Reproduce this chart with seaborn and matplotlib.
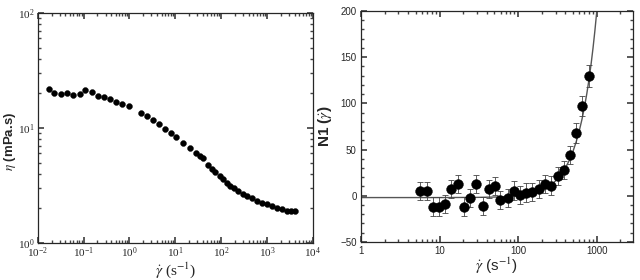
import numpy as np
import pandas as pd
import matplotlib
matplotlib.use('Agg')
import matplotlib.pyplot as plt
import matplotlib.ticker as mticker
import seaborn as sns

# viscosity curve (left panel)
shear_visc = [0.0174, 0.0231, 0.0316, 0.0437, 0.0589, 0.0813, 0.108, 0.149, 0.204, 0.276,
              0.373, 0.505, 0.693, 0.955, 1.77, 2.36, 3.24, 4.46, 6.03, 8.13, 10.5,
              14.9, 20.8, 27.7, 34.4, 40.7, 50.7, 61.7, 73.3, 94.2, 111, 132, 155,
              191, 236, 302, 372, 462, 596, 766, 977, 1259, 1622, 2089, 2692, 3311, 4074]
eta = [21.7, 20.3, 19.6, 20.0, 19.2, 19.9, 21.4, 20.7, 18.9, 18.7,
       18.0, 16.8, 16.1, 15.5, 13.6, 12.7, 11.7, 10.9, 9.8, 9.1, 8.3,
       7.36, 6.65, 6.02, 5.71, 5.46, 4.77, 4.40, 4.17, 3.83, 3.58, 3.35, 3.15,
       2.99, 2.83, 2.67, 2.56, 2.45, 2.33, 2.24, 2.17, 2.10, 2.01, 1.96, 1.91, 1.89, 1.89]

# first normal stress difference (right panel)
shear_n1 = [5.65, 6.87, 8.2, 9.95, 11.7, 14.0, 17.1, 20.7, 24.5, 29.2, 35.5, 43.1, 51, 59,
            73.8, 89, 106, 126, 152, 185, 221, 263, 320, 385, 460, 548, 653, 795]
n1 = [5.2, 5.2, -11.7, -11.7, -8.8, 7.1, 12.5, -11.7, -2.7, 12.5, -11, 7.4, 10.3, -4.5,
      -2.7, 5.5, 0.9, 3.4, 3.8, 7.0, 12.8, 10.9, 21.5, 27.9, 44.2, 67.7, 97.2, 130]
n1_err = [10, 10, 10, 10, 10, 10, 10, 10, 10, 10, 10, 10, 10, 10,
          10, 10, 10, 10, 10, 10, 10, 10, 10, 10, 10, 11, 11, 12]

# fitted curve
fit_x = [1, 5, 10, 30, 60, 100, 150, 200, 250, 300, 350, 400, 450, 500, 550, 600, 650,
         700, 750, 800, 850, 900, 950, 1000]
fit_y = [-2, -2, -2, -1.8, -1.3, 0, 2.5, 6, 10.5, 16, 22.5, 30, 38.5, 48, 58.5, 70,
         82.5, 96, 110.5, 126, 142.5, 160, 178.5, 198]

df_visc = pd.DataFrame({'shear': shear_visc, 'eta': eta})
df_n1 = pd.DataFrame({'shear': shear_n1, 'n1': n1, 'err': n1_err})
df_fit = pd.DataFrame({'shear': fit_x, 'n1': fit_y})

sns.set_theme(style='ticks')
plt.rcParams['mathtext.fontset'] = 'stix'
plt.rcParams['axes.linewidth'] = 0.9

fig = plt.figure(figsize=(6.4, 2.8), dpi=100)
ax1 = fig.add_axes([0.059, 0.132, 0.430, 0.822])
ax2 = fig.add_axes([0.564, 0.136, 0.425, 0.825])

# left: viscosity
sns.scatterplot(data=df_visc, x='shear', y='eta', ax=ax1, color='black', s=18,
                edgecolor='black', linewidth=0.3, legend=False)
ax1.set_xscale('log')
ax1.set_yscale('log')
ax1.set_xlim(1e-2, 1e4)
ax1.set_ylim(1, 100)
ax1.xaxis.set_major_locator(mticker.LogLocator(base=10, numticks=10))
ax1.xaxis.set_minor_locator(mticker.LogLocator(base=10, subs=np.arange(2, 10), numticks=20))
ax1.yaxis.set_minor_locator(mticker.LogLocator(base=10, subs=np.arange(2, 10), numticks=20))
ax1.xaxis.set_minor_formatter(mticker.NullFormatter())
ax1.yaxis.set_minor_formatter(mticker.NullFormatter())
for lab in ax1.get_xticklabels() + ax1.get_yticklabels():
    lab.set_family('Liberation Serif')
ax1.tick_params(which='both', direction='in', top=True, right=True, labelsize=8, pad=2,
                color='#444444')
ax1.tick_params(which='major', length=4)
ax1.tick_params(which='minor', length=2.5)
ax1.set_xlabel(r'$\dot{\gamma}$ (s$^{-1}$)', fontsize=11, family='Liberation Serif', labelpad=0)
ax1.set_ylabel(r'$\eta$ (mPa.s)', fontsize=9.5, fontweight='bold', family='Liberation Sans')
ax1.yaxis.set_label_coords(-0.072, 0.44)

# right: N1
sns.lineplot(data=df_fit, x='shear', y='n1', ax=ax2, color='#555555', linewidth=1.0,
             sort=False, estimator=None)
ax2.errorbar(df_n1['shear'], df_n1['n1'], yerr=df_n1['err'], fmt='none', ecolor='#444444',
             elinewidth=0.6, capsize=2, capthick=0.6)
sns.scatterplot(data=df_n1, x='shear', y='n1', ax=ax2, color='black', s=50,
                edgecolor='black', linewidth=0.3, legend=False, zorder=5)
ax2.set_xscale('log')
ax2.set_xlim(1, 2900)
ax2.set_ylim(-50, 200)
ax2.xaxis.set_major_locator(mticker.FixedLocator([1, 10, 100, 1000]))
ax2.xaxis.set_major_formatter(mticker.FixedFormatter(['1', '10', '100', '1000']))
ax2.xaxis.set_minor_locator(mticker.LogLocator(base=10, subs=np.arange(2, 10), numticks=20))
ax2.xaxis.set_minor_formatter(mticker.NullFormatter())
ax2.yaxis.set_major_locator(mticker.MultipleLocator(50))
ax2.yaxis.set_minor_locator(mticker.MultipleLocator(10))
for lab in ax2.get_xticklabels() + ax2.get_yticklabels():
    lab.set_family('Liberation Sans')
ax2.tick_params(which='both', direction='in', top=True, right=True, labelsize=7, pad=3,
                color='#444444')
ax2.tick_params(which='major', length=4)
ax2.tick_params(which='minor', length=2.5)
ax2.set_xlabel(r'$\dot{\gamma}$ (s$^{-1}$)', fontsize=11, family='Liberation Sans', labelpad=0)
ax2.set_ylabel(r'N1 ($\dot{\gamma}$)', fontsize=11, fontweight='bold', family='Liberation Sans')
ax2.yaxis.set_label_coords(-0.098, 0.5)

fig.savefig('out.png', dpi=100)
